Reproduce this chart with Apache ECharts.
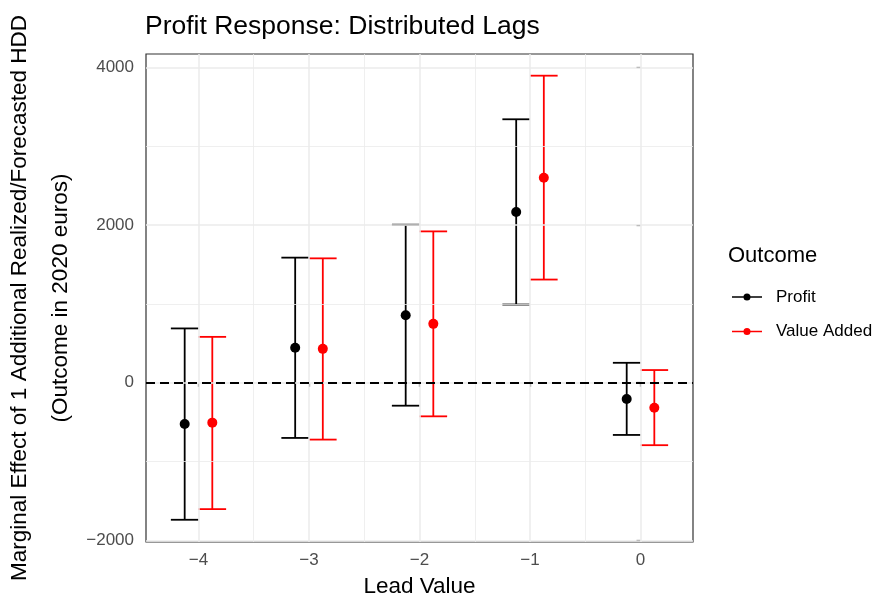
<!DOCTYPE html>
<html>
<head>
<meta charset="utf-8">
<script src="https://cdn.jsdelivr.net/npm/echarts@6/dist/echarts.min.js"></script>
<style>
  html, body { margin: 0; padding: 0; background: #ffffff; }
  #chart { width: 884px; height: 595px; }
</style>
</head>
<body>
<div id="chart"></div>
<script>
// Lead values on the x axis
const leads = [-4, -3, -2, -1, 0];

// Profit: point estimate and confidence bounds
const profitEst  = [-523, 443, 857, 2165, -206];
const profitLow  = [-1738, -700, -291, 992, -662];
const profitHigh = [689, 1587, 2005, 3342, 253];

// Value Added: point estimate and confidence bounds
const valueAddedEst  = [-506, 430, 747, 2600, -316];
const valueAddedLow  = [-1603, -721, -426, 1309, -792];
const valueAddedHigh = [582, 1578, 1920, 3895, 161];

// Tick and grid positions
const xTicks = [-4, -3, -2, -1, 0];
const xMinor = [-3.5, -2.5, -1.5, -0.5];
const yTicks = [-2000, 0, 2000, 4000];
const yMinor = [-1000, 1000, 3000];

const FONT = 'Liberation Sans, Arial, Helvetica, sans-serif';
const DODGE = 0.125;     // horizontal offset of each group
const CAP = 0.125;       // half-width of the error bar caps
const minus = v => String(v).replace('-', '\u2212');

const keyIcon = 'path://M0,3.6H34V5.4H0Z M13,4.5A4,4 0 1,1 21,4.5A4,4 0 1,1 13,4.5Z';

function errorBars(name, color, shift, low, high) {
  return {
    name: name,
    type: 'custom',
    z: 3,
    silent: true,
    itemStyle: { color: color },
    data: leads.map((x, i) => [x, low[i], high[i]]),
    encode: { x: 0, y: [1, 2] },
    renderItem: function (params, api) {
      const x = api.value(0) + shift;
      const top = api.coord([x, api.value(2)]);
      const bot = api.coord([x, api.value(1)]);
      const l = api.coord([x - CAP, api.value(2)])[0];
      const r = api.coord([x + CAP, api.value(2)])[0];
      const style = { stroke: color, lineWidth: 1.8, fill: null };
      return {
        type: 'group',
        children: [
          { type: 'line', shape: { x1: top[0], y1: top[1], x2: bot[0], y2: bot[1] }, style: style },
          { type: 'line', shape: { x1: l, y1: top[1], x2: r, y2: top[1] }, style: style },
          { type: 'line', shape: { x1: l, y1: bot[1], x2: r, y2: bot[1] }, style: style }
        ]
      };
    }
  };
}

function points(name, color, shift, est) {
  return {
    name: name,
    type: 'scatter',
    z: 4,
    silent: true,
    symbol: 'circle',
    symbolSize: 10,
    itemStyle: { color: color, opacity: 1 },
    data: leads.map((x, i) => [x + shift, est[i]])
  };
}

function gridLines(values, axisKey, width) {
  return {
    type: 'line',
    data: [],
    z: 1,
    silent: true,
    markLine: {
      silent: true,
      symbol: ['none', 'none'],
      label: { show: false },
      animation: false,
      lineStyle: { color: '#ebebeb', width: width, type: 'solid' },
      data: values.map(v => ({ [axisKey]: v }))
    }
  };
}

const chart = echarts.init(document.getElementById('chart'), null, { renderer: 'canvas' });

chart.setOption({
  animation: false,
  backgroundColor: '#ffffff',
  textStyle: { fontFamily: FONT },
  title: [
    {
      text: 'Profit Response: Distributed Lags',
      left: 145, top: 13, padding: 0,
      textStyle: { fontFamily: FONT, fontSize: 26.5, fontWeight: 'normal', color: '#000000' }
    },
    {
      text: 'Outcome',
      left: 728, top: 245, padding: 0,
      textStyle: { fontFamily: FONT, fontSize: 22, fontWeight: 'normal', color: '#000000' }
    }
  ],
  legend: {
    orient: 'vertical',
    left: 732, top: 287,
    padding: 0,
    itemWidth: 30, itemHeight: 8,
    itemGap: 14.5,
    selectedMode: false,
    data: [
      { name: 'Profit', icon: keyIcon, itemStyle: { color: '#000000' } },
      { name: 'Value Added', icon: keyIcon, itemStyle: { color: '#ff0000' } }
    ],
    textStyle: { fontFamily: FONT, fontSize: 17, color: '#000000', lineHeight: 20, padding: [0, 0, 0, 9] }
  },
  grid: {
    left: 146, right: 191, top: 54, bottom: 53,
    outerBoundsMode: 'none',
    containLabel: false,
    show: true,
    borderColor: '#333333', borderWidth: 1.2,
    backgroundColor: 'transparent'
  },
  xAxis: {
    type: 'value',
    min: -4.475, max: 0.475,
    name: 'Lead Value',
    nameLocation: 'middle',
    nameGap: 33,
    nameMoveOverlap: false,
    nameTextStyle: { fontFamily: FONT, fontSize: 22.5, color: '#000000' },
    axisLine: { show: false },
    axisTick: { show: true, length: 4, lineStyle: { color: '#333333', width: 1.2 }, customValues: xTicks },
    axisLabel: { fontFamily: FONT, fontSize: 17, color: '#4d4d4d', margin: 10, customValues: xTicks, formatter: minus },
    splitLine: { show: false }
  },
  yAxis: {
    type: 'value',
    min: -2020, max: 4170,
    name: 'Marginal Effect of 1 Additional Realized/Forecasted HDD\n(Outcome in 2020 euros)',
    nameLocation: 'middle',
    nameRotate: 90,
    nameGap: 65,
    nameMoveOverlap: false,
    nameTextStyle: { fontFamily: FONT, fontSize: 22.5, color: '#000000', lineHeight: 41, align: 'center' },
    axisLine: { show: false },
    axisTick: { show: true, length: 4, lineStyle: { color: '#333333', width: 1.2 }, customValues: yTicks },
    axisLabel: { fontFamily: FONT, fontSize: 17, color: '#4d4d4d', margin: 12, customValues: yTicks, formatter: minus },
    splitLine: { show: false }
  },
  series: [
    gridLines(xMinor, 'xAxis', 0.8),
    gridLines(yMinor, 'yAxis', 0.8),
    gridLines(xTicks, 'xAxis', 1.5),
    gridLines(yTicks, 'yAxis', 1.5),
    {
      type: 'line',
      data: [],
      z: 2,
      silent: true,
      markLine: {
        silent: true,
        symbol: ['none', 'none'],
        label: { show: false },
        animation: false,
        lineStyle: { color: '#000000', width: 1.8, type: [9, 5] },
        data: [{ yAxis: 0 }]
      }
    },
    errorBars('Profit', '#000000', -DODGE, profitLow, profitHigh),
    errorBars('Value Added', '#ff0000', DODGE, valueAddedLow, valueAddedHigh),
    points('Profit', '#000000', -DODGE, profitEst),
    points('Value Added', '#ff0000', DODGE, valueAddedEst)
  ]
});
</script>
</body>
</html>
